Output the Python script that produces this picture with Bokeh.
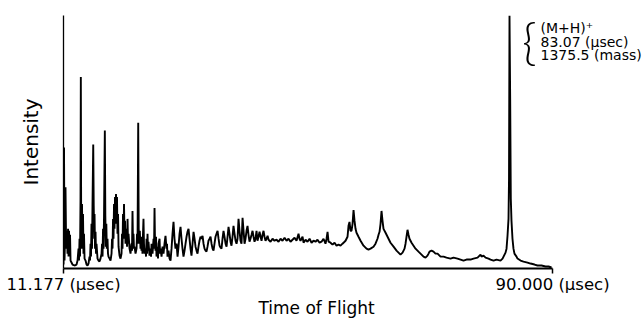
from bokeh.plotting import figure
from bokeh.models import FixedTicker, Label, Range1d, LinearAxis
from bokeh.embed import file_html
from bokeh.resources import INLINE

# Time of flight (microseconds) and detector intensity (arbitrary units)
time_us = [
    11.18, 11.26, 11.34, 11.42, 11.50, 11.58, 11.66, 11.74, 11.82, 11.91,
    11.99, 12.07, 12.15, 12.23, 12.31, 12.47, 12.63, 12.95, 13.28, 13.44,
    13.60, 13.68, 13.76, 13.84, 13.92, 13.97, 14.02, 14.08, 14.16, 14.24,
    14.32, 14.40, 14.48, 14.57, 14.73, 14.89, 15.05, 15.21, 15.37, 15.45,
    15.53, 15.61, 15.69, 15.77, 15.85, 15.97, 16.05, 16.13, 16.18, 16.26,
    16.34, 16.42, 16.50, 16.66, 16.82, 16.98, 17.14, 17.31, 17.39, 17.47,
    17.55, 17.63, 17.71, 17.84, 17.92, 18.00, 18.08, 18.16, 18.27, 18.35,
    18.43, 18.60, 18.76, 18.92, 19.00, 19.08, 19.16, 19.24, 19.32, 19.40,
    19.48, 19.56, 19.64, 19.72, 19.80, 19.88, 19.97, 20.05, 20.21, 20.37,
    20.53, 20.61, 20.69, 20.77, 20.85, 20.93, 21.01, 21.09, 21.17, 21.34,
    21.42, 21.50, 21.58, 21.66, 21.82, 21.98, 22.14, 22.22, 22.30, 22.38,
    22.46, 22.54, 22.62, 22.79, 22.95, 23.03, 23.11, 23.22, 23.30, 23.38,
    23.48, 23.59, 23.67, 23.75, 23.83, 23.91, 23.99, 24.07, 24.15, 24.24,
    24.40, 24.48, 24.56, 24.64, 24.72, 24.80, 24.88, 25.04, 25.20, 25.29,
    25.37, 25.53, 25.69, 25.77, 25.85, 25.93, 26.01, 26.09, 26.17, 26.33,
    26.41, 26.49, 26.66, 26.74, 26.82, 26.98, 27.14, 27.30, 27.46, 27.62,
    27.78, 27.86, 27.94, 28.11, 28.27, 28.43, 28.59, 28.75, 28.91, 29.07,
    29.23, 29.40, 29.56, 29.72, 29.88, 30.04, 30.20, 30.36, 30.52, 30.69,
    30.85, 31.01, 31.17, 31.33, 31.49, 31.65, 31.81, 31.98, 32.14, 32.30,
    32.46, 32.62, 32.78, 32.94, 33.10, 33.26, 33.43, 33.59, 33.75, 33.91,
    34.07, 34.23, 34.39, 34.55, 34.72, 34.88, 35.04, 35.20, 35.36, 35.52,
    35.68, 35.84, 36.01, 36.17, 36.33, 36.49, 36.65, 36.81, 36.97, 37.13,
    37.30, 37.46, 37.62, 37.78, 37.94, 38.10, 38.26, 38.42, 38.58, 38.75,
    38.91, 39.07, 39.23, 39.39, 39.55, 39.71, 39.87, 40.04, 40.20, 40.36,
    40.52, 40.68, 40.84, 41.00, 41.16, 41.32, 41.49, 41.65, 41.81, 41.97,
    42.13, 42.29, 42.45, 42.61, 42.78, 42.94, 43.10, 43.26, 43.42, 43.58,
    43.74, 43.90, 44.07, 44.23, 44.55, 44.87, 45.19, 45.52, 45.84, 46.16,
    46.48, 46.81, 47.13, 47.45, 47.77, 48.09, 48.42, 48.74, 49.06, 49.22,
    49.38, 49.71, 49.87, 50.19, 50.51, 50.84, 51.16, 51.48, 51.80, 52.12,
    52.45, 52.77, 53.09, 53.41, 53.58, 53.74, 53.90, 54.22, 54.54, 54.87,
    55.19, 55.51, 55.83, 56.15, 56.48, 56.64, 56.80, 56.96, 57.12, 57.28,
    57.44, 57.60, 57.77, 57.93, 58.09, 58.25, 58.41, 58.73, 59.06, 59.54,
    60.02, 60.34, 60.67, 61.15, 61.47, 61.79, 61.96, 62.12, 62.28, 62.44,
    62.60, 62.76, 63.09, 63.41, 63.89, 64.38, 64.86, 65.18, 65.50, 65.83,
    66.15, 66.31, 66.47, 66.63, 66.79, 66.95, 67.28, 67.60, 67.92, 68.40,
    68.89, 69.21, 69.53, 69.85, 70.02, 70.18, 70.50, 70.82, 71.14, 71.47,
    71.95, 72.44, 72.92, 73.56, 74.05, 74.69, 75.18, 75.66, 76.14, 76.79,
    77.27, 77.92, 78.24, 78.40, 78.56, 78.88, 79.21, 79.69, 80.01, 80.50,
    80.98, 81.62, 81.95, 82.11, 82.43, 82.59, 82.75, 82.91, 82.99, 83.07,
    83.18, 83.28, 83.39, 83.55, 83.71, 83.87, 84.20, 84.36, 84.85, 85.33,
    85.97, 86.46, 87.10, 87.59, 88.23, 88.88, 89.36, 89.84,
]
intensity = [
    4, 122, 8, 30, 82, 35, 20, 38, 15, 40,
    12, 38, 15, 34, 8, 6, 4, 3, 4, 8,
    20, 8, 30, 12, 70, 193, 60, 20, 65, 25,
    55, 15, 35, 10, 8, 4, 3, 5, 12, 8,
    25, 12, 45, 20, 63, 125, 63, 30, 55, 20,
    37, 15, 25, 10, 8, 7, 10, 15, 25, 12,
    40, 20, 53, 139, 53, 22, 45, 20, 30, 15,
    12, 10, 8, 15, 30, 20, 50, 30, 65, 40,
    72, 45, 75, 50, 72, 35, 55, 22, 13, 10,
    15, 35, 20, 55, 30, 65, 35, 48, 25, 40,
    22, 50, 25, 35, 20, 15, 25, 18, 58, 25,
    35, 20, 22, 15, 20, 35, 25, 147, 40, 25,
    38, 20, 32, 18, 30, 15, 35, 50, 25, 15,
    20, 12, 30, 15, 35, 18, 27, 13, 20, 12,
    25, 15, 30, 20, 61, 25, 18, 32, 12, 22,
    10, 25, 30, 15, 20, 12, 22, 15, 25, 33,
    20, 25, 12, 18, 10, 8, 20, 35, 47, 30,
    20, 25, 12, 22, 35, 42, 30, 20, 12, 18,
    25, 32, 37, 40, 30, 20, 13, 25, 37, 30,
    22, 18, 15, 22, 28, 32, 30, 33, 25, 20,
    18, 17, 22, 28, 30, 32, 25, 20, 18, 25,
    32, 35, 38, 30, 23, 21, 20, 30, 38, 32,
    25, 22, 32, 42, 35, 27, 23, 32, 43, 35,
    28, 25, 30, 50, 38, 28, 25, 51, 38, 25,
    30, 38, 43, 34, 27, 30, 34, 38, 32, 27,
    30, 38, 28, 32, 37, 32, 28, 34, 38, 32,
    28, 30, 33, 29, 27, 30, 28, 29, 27, 30,
    28, 31, 28, 30, 27, 29, 31, 28, 35, 30,
    28, 32, 26, 29, 27, 30, 26, 28, 27, 29,
    26, 27, 30, 25, 30, 37, 27, 26, 24, 26,
    23, 24, 23, 25, 27, 28, 30, 32, 43, 47,
    38, 38, 45, 59, 48, 40, 36, 32, 28, 23,
    20, 19, 20, 22, 25, 30, 34, 37, 45, 58,
    48, 40, 36, 32, 26, 22, 18, 16, 14, 16,
    20, 25, 32, 39, 34, 30, 26, 23, 20, 17,
    14, 12, 11, 13, 15, 17, 18, 17, 15, 15,
    12, 12, 11, 10, 11, 10, 9, 8, 9, 9,
    10, 11, 13, 14, 12, 13, 11, 10, 9, 8,
    9, 8, 10, 12, 16, 20, 33, 50, 90, 255,
    170, 70, 48, 30, 20, 15, 12, 10, 8, 7,
    6, 5, 4, 3, 3, 2, 2, 1,
]

x_tick_values = [11.177, 90.0]
x_tick_labels = ["11.177 (\u00b5sec)", "90.000 (\u00b5sec)"]
peak_note_lines = ["(M+H)\u207a", "83.07 (\u00b5sec)", "1375.5 (mass)"]
peak_note_y = [242, 228, 215]

FONT = "DejaVu Sans"
X_TITLE_AT = 51.96  # where the "Time of Flight" caption sits under the axis

p = figure(width=644, height=320, output_backend="svg", toolbar_location=None,
           x_range=Range1d(11.177, 104.83), y_range=Range1d(0, 255),
           min_border_left=63, min_border_right=0, min_border_top=15,
           min_border_bottom=50)

p.line(time_us, intensity, line_color="black", line_width=1.9)

p.grid.visible = False
p.outline_line_color = None
p.background_fill_color = "white"
p.border_fill_color = "white"

xa = p.xaxis[0]
xa.bounds = (11.177, 90.0)
xa.ticker = FixedTicker(ticks=x_tick_values)
xa.major_label_overrides = {v: s for v, s in zip(x_tick_values, x_tick_labels)}
xa.major_tick_in = 0
xa.major_tick_out = 5
xa.major_tick_line_width = 1.5
xa.minor_tick_line_color = None
xa.axis_line_width = 1.8
xa.axis_line_color = "black"
xa.major_label_text_font = FONT
xa.major_label_text_font_size = "16.5px"
xa.major_label_text_color = "black"
xa.major_label_standoff = 1

xt = LinearAxis(ticker=FixedTicker(ticks=[X_TITLE_AT]),
                major_label_overrides={X_TITLE_AT: "Time of Flight"})
xt.axis_line_color = None
xt.major_tick_line_color = None
xt.minor_tick_line_color = None
xt.major_tick_in = 0
xt.major_tick_out = 0
xt.major_label_standoff = 1
xt.major_label_text_font = FONT
xt.major_label_text_font_size = "17px"
xt.major_label_text_color = "black"
p.add_layout(xt, "below")

ya = p.yaxis[0]
ya.ticker = FixedTicker(ticks=[])
ya.major_tick_line_color = None
ya.minor_tick_line_color = None
ya.axis_line_width = 1.3
ya.axis_line_color = "black"
ya.axis_label = "Intensity"
ya.axis_label_text_font = FONT
ya.axis_label_text_font_size = "20px"
ya.axis_label_text_font_style = "normal"
ya.axis_label_text_color = "black"
ya.axis_label_standoff = 21

p.add_layout(Label(x=85.1, y=230, text="{", text_font="Lato Light",
                   text_font_size="50px", text_baseline="middle",
                   text_align="left", text_color="black"))
for line_text, ly in zip(peak_note_lines, peak_note_y):
    p.add_layout(Label(x=88.07, y=ly, text=line_text, text_font=FONT,
                       text_font_size="14px", text_baseline="alphabetic",
                       text_align="left", text_color="black"))

open("out.html", "w").write(file_html(p, INLINE))
